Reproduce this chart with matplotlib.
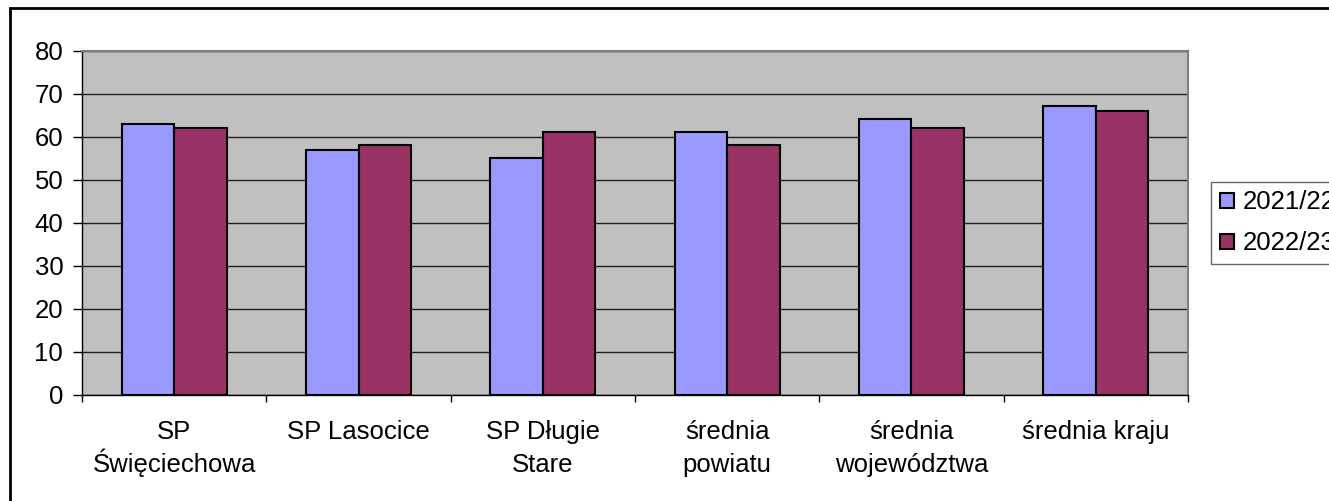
"""Grouped bar chart: school results vs. averages, 2021/22 and 2022/23."""
import numpy as np
import matplotlib
matplotlib.use("Agg")
import matplotlib.pyplot as plt
from matplotlib.patches import Rectangle

plt.rcParams["font.family"] = ["Liberation Sans", "DejaVu Sans"]

categories = ["SP\nŚwięciechowa", "SP Lasocice", "SP Długie\nStare",
              "średnia\npowiatu", "średnia\nwojewództwa", "średnia kraju"]
series_names = ["2021/22", "2022/23"]
values_2021 = [63, 57, 55, 61, 64, 67]
values_2022 = [62, 58, 61, 58, 62, 66]
y_ticks = [0, 10, 20, 30, 40, 50, 60, 70, 80]

FS = 18.5
W, H = 1329, 501
fig = plt.figure(figsize=(W / 100, H / 100), dpi=100)
ax_h = 395 - 50.5
ax = fig.add_axes([82 / W, 1 - 395 / H, (1188 - 82) / W, ax_h / H])

# outer chart frame (runs off the right and bottom edges)
fig.patches.append(Rectangle((10 / W, -0.1), 1.2, 1 - 8 / H + 0.1,
                             transform=fig.transFigure, fill=False,
                             edgecolor="black", linewidth=2, zorder=0))

x = np.arange(len(categories))
w = 0.285
ax.set_facecolor("#C0C0C0")
ax.bar(x - w / 2, values_2021, w, color="#9999FF", edgecolor="black",
       linewidth=1.5, label=series_names[0], zorder=3)
ax.bar(x + w / 2, values_2022, w, color="#993366", edgecolor="black",
       linewidth=1.5, label=series_names[1], zorder=3)

ax.set_xlim(-0.5, len(categories) - 0.5)
ax.set_ylim(0, 80)
ax.set_yticks(y_ticks)
ax.yaxis.grid(True, color="#202020", linewidth=1.0, zorder=1)
ax.set_axisbelow(True)

# ticks between categories, labels drawn line by line with even spacing
ax.set_xticks(np.arange(len(categories) + 1) - 0.5)
ax.set_xticklabels([])
ax.tick_params(axis="x", length=5, width=1, color="black")
ax.tick_params(axis="y", length=6.5, width=1, labelsize=FS, pad=7)
line_y = [-(439 - 395) / ax_h, -(471.7 - 395) / ax_h]
for xi, lab in zip(x, categories):
    for k, line in enumerate(lab.split("\n")):
        ax.text(xi, line_y[k], line, transform=ax.get_xaxis_transform(),
                ha="center", va="baseline", fontsize=FS, clip_on=False)

for s in ("top", "right"):
    ax.spines[s].set_color("#808080")
    ax.spines[s].set_linewidth(1.5)
for s in ("left", "bottom"):
    ax.spines[s].set_color("black")
    ax.spines[s].set_linewidth(1)

leg = fig.legend(loc="upper left", bbox_to_anchor=(1211 / W, 1 - 181.5 / H),
                 fontsize=FS, frameon=True, fancybox=False, edgecolor="#404040",
                 handlelength=0.55, handleheight=0.55, handletextpad=0.32,
                 borderpad=0.35, labelspacing=0.66, borderaxespad=0)
leg.get_frame().set_linewidth(1)
for h in leg.legend_handles:
    h.set_linewidth(1.5)

fig.savefig("out.png", dpi=100)
